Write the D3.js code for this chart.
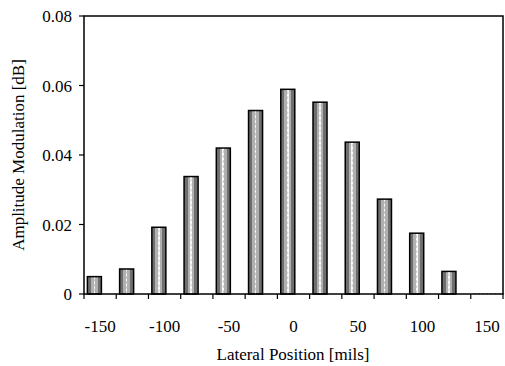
<!DOCTYPE html>
<html><head><meta charset="utf-8">
<script src="https://cdn.jsdelivr.net/npm/d3@7"></script>
<style>
body{margin:0;background:#fff;}
</style></head>
<body><svg id="c" width="505" height="366"></svg>
<script>
const categories = [-150,-125,-100,-75,-50,-25,0,25,50,75,100,125,150];
const values = [0.0050,0.0072,0.0192,0.0338,0.0420,0.0528,0.0589,0.0552,0.0437,0.0273,0.0175,0.0065,0.0003];
const yTicks = [0,0.02,0.04,0.06,0.08];
const xLabels = [-150,-100,-50,0,50,100,150];

const TXT = "font-family:'Times New Roman','Liberation Serif',serif !important;font-size:17px;";
const svg = d3.select("#c");
const L=84, R=503, T=16, B=294;
const x = d3.scaleBand().domain(categories).range([L,R]).padding(0);
const y = d3.scaleLinear().domain([0,0.08]).range([B,T]);

const defs = svg.append("defs");
const g = defs.append("linearGradient").attr("id","stripe").attr("x1","0").attr("x2","1").attr("y1","0").attr("y2","0");
[[0,"#6e6e6e"],[0.26,"#6e6e6e"],[0.26,"#b0b0b0"],[0.44,"#b0b0b0"],[0.44,"#ffffff"],[0.56,"#ffffff"],[0.56,"#b0b0b0"],[0.74,"#b0b0b0"],[0.74,"#6e6e6e"],[1,"#6e6e6e"]]
 .forEach(([o,c])=>g.append("stop").attr("offset",o).attr("stop-color",c));

const bw = x.bandwidth();
const bars = svg.append("g");
categories.forEach((c,i)=>{
  const x0 = x(c)+bw*0.105, w = bw*0.435;
  const y0 = y(values[i]);
  if (values[i] < 0.001) {
    bars.append("line").attr("x1",x0).attr("x2",x0+w+16).attr("y1",B-0.5).attr("y2",B-0.5)
      .attr("stroke","#999").attr("stroke-dasharray","2,2");
    return;
  }
  bars.append("rect").attr("x",x0).attr("y",y0).attr("width",w).attr("height",B-y0)
    .attr("fill","url(#stripe)").attr("stroke","#000").attr("stroke-width",1.5);
  bars.append("line").attr("x1",x0+w/2).attr("x2",x0+w/2).attr("y1",y0+2).attr("y2",B)
    .attr("stroke","#c8c8c8").attr("stroke-width",1).attr("stroke-dasharray","3,2");
});

svg.append("rect").attr("x",L).attr("y",T).attr("width",R-L).attr("height",B-T)
  .attr("fill","none").attr("stroke","#000").attr("stroke-width",1.5);

yTicks.forEach(t=>{
  svg.append("line").attr("x1",L-5).attr("x2",L).attr("y1",y(t)).attr("y2",y(t)).attr("stroke","#000").attr("stroke-width",1.2);
  svg.append("text").attr("x",72).attr("y",y(t)+6).attr("text-anchor","end")
    .attr("style",TXT).text(t===0?"0":t.toFixed(2));
});

const bounds = categories.map(c=>x(c)).concat([R]);
bounds.forEach(b=>{
  svg.append("line").attr("x1",b).attr("x2",b).attr("y1",B).attr("y2",B+5).attr("stroke","#000").attr("stroke-width",1.2);
});
xLabels.forEach(v=>{
  svg.append("text").attr("x",x(v)+bw/2).attr("y",332).attr("text-anchor","middle")
    .attr("style",TXT).text(v);
});

svg.append("text").attr("x",293).attr("y",360).attr("text-anchor","middle").attr("style",TXT).text("Lateral Position [mils]");
svg.append("text").attr("transform","translate(24,155) rotate(-90)").attr("text-anchor","middle").attr("style",TXT).text("Amplitude Modulation [dB]");
</script></body></html>
